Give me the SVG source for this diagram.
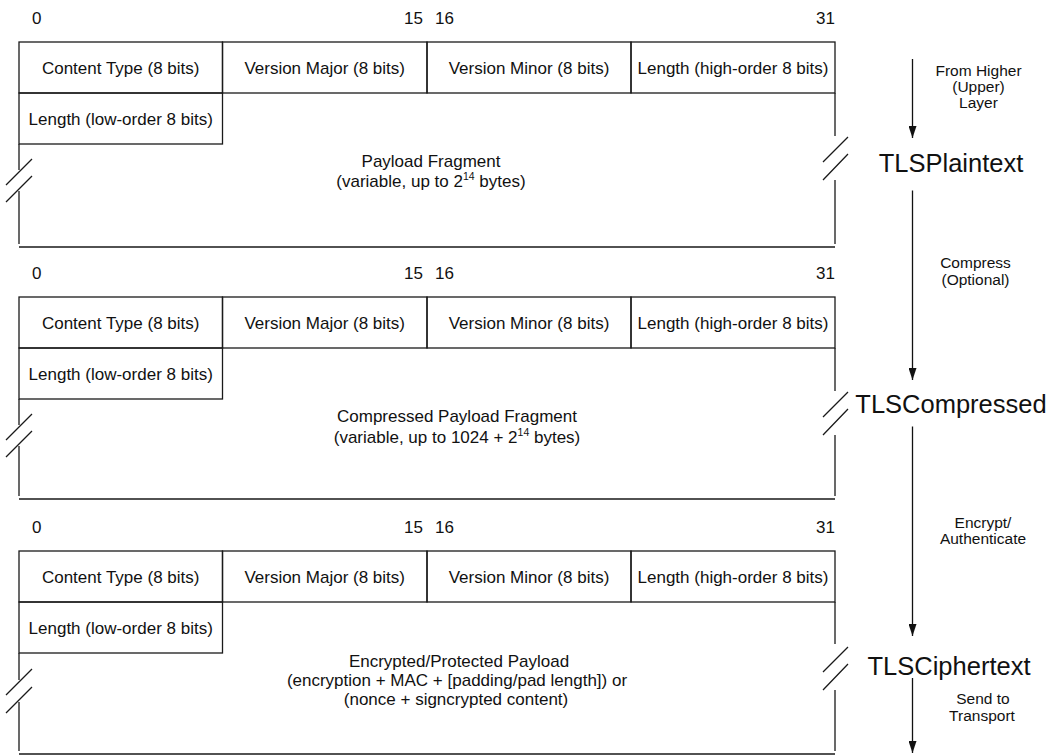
<svg xmlns="http://www.w3.org/2000/svg" width="1058" height="755" viewBox="0 0 1058 755">
<style>
text{font-family:"Liberation Sans",Arial,sans-serif;fill:#111}
.f{font-size:17px;text-anchor:middle}
.n{font-size:17px}
.s{font-size:15.5px;text-anchor:middle}
.big{font-size:25.5px;text-anchor:middle}
.sup{font-size:10.5px}
.ln{stroke:#1a1a1a;stroke-width:1.3;fill:none}
.con{stroke:#111;stroke-width:1.3;fill:none}
</style>
<defs>
<marker id="ah" markerUnits="userSpaceOnUse" markerWidth="12" markerHeight="8" refX="12" refY="4" orient="auto">
<path d="M0,0 L12,4 L0,8 z" fill="#111"/>
</marker>
</defs>
<rect width="1058" height="755" fill="#fff"/>

<!-- Frame 1 -->
<g id="tlsplaintext-record" transform="translate(0,42)">
<text class="n" x="32" y="-18">0</text>
<text class="n" x="423" y="-18" text-anchor="end">15</text>
<text class="n" x="435" y="-18">16</text>
<text class="n" x="835" y="-18" text-anchor="end">31</text>
<g id="f1-content-type"><rect class="ln" x="19" y="0" width="203.5" height="51"/><text class="f" x="120.7" y="31.5">Content Type (8 bits)</text></g>
<g id="f1-version-major"><rect class="ln" x="222.5" y="0" width="204.5" height="51"/><text class="f" x="324.7" y="31.5">Version Major (8 bits)</text></g>
<g id="f1-version-minor"><rect class="ln" x="427" y="0" width="204" height="51"/><text class="f" x="529" y="31.5">Version Minor (8 bits)</text></g>
<g id="f1-length-high"><rect class="ln" x="631" y="0" width="204" height="51"/><text class="f" x="733" y="31.5">Length (high-order 8 bits)</text></g>
<g id="f1-length-low"><rect class="ln" x="19" y="51" width="203.5" height="51"/><text class="f" x="120.7" y="82.5">Length (low-order 8 bits)</text></g>
<g id="f1-payload">
<path class="ln" d="M19,102 V128 M19,149 V202 M835,51 V94 M835,138 V202 M19,205 H835"/>
<path class="ln" d="M32,117 L6,143 M32,134 L6,160 M848,95 L823,120 M848,112 L823,138"/>
<text class="f" x="431" y="124.7">Payload Fragment</text>
<text class="f" x="431" y="144.7">(variable, up to 2<tspan class="sup" dy="-7">14</tspan><tspan dy="7"> bytes)</tspan></text>
</g>
</g>

<!-- Frame 2 -->
<g id="tlscompressed-record" transform="translate(0,297)">
<text class="n" x="32" y="-18">0</text>
<text class="n" x="423" y="-18" text-anchor="end">15</text>
<text class="n" x="435" y="-18">16</text>
<text class="n" x="835" y="-18" text-anchor="end">31</text>
<g id="f2-content-type"><rect class="ln" x="19" y="0" width="203.5" height="51"/><text class="f" x="120.7" y="31.5">Content Type (8 bits)</text></g>
<g id="f2-version-major"><rect class="ln" x="222.5" y="0" width="204.5" height="51"/><text class="f" x="324.7" y="31.5">Version Major (8 bits)</text></g>
<g id="f2-version-minor"><rect class="ln" x="427" y="0" width="204" height="51"/><text class="f" x="529" y="31.5">Version Minor (8 bits)</text></g>
<g id="f2-length-high"><rect class="ln" x="631" y="0" width="204" height="51"/><text class="f" x="733" y="31.5">Length (high-order 8 bits)</text></g>
<g id="f2-length-low"><rect class="ln" x="19" y="51" width="203.5" height="51"/><text class="f" x="120.7" y="82.5">Length (low-order 8 bits)</text></g>
<g id="f2-payload">
<path class="ln" d="M19,102 V128 M19,149 V199 M835,51 V94 M835,138 V199 M19,202 H835"/>
<path class="ln" d="M32,117 L6,143 M32,134 L6,160 M848,95 L823,120 M848,112 L823,138"/>
<text class="f" x="457" y="125.3">Compressed Payload Fragment</text>
<text class="f" x="457" y="146.3">(variable, up to 1024 + 2<tspan class="sup" dy="-7">14</tspan><tspan dy="7"> bytes)</tspan></text>
</g>
</g>

<!-- Frame 3 -->
<g id="tlsciphertext-record" transform="translate(0,551)">
<text class="n" x="32" y="-18">0</text>
<text class="n" x="423" y="-18" text-anchor="end">15</text>
<text class="n" x="435" y="-18">16</text>
<text class="n" x="835" y="-18" text-anchor="end">31</text>
<g id="f3-content-type"><rect class="ln" x="19" y="0" width="203.5" height="51"/><text class="f" x="120.7" y="31.5">Content Type (8 bits)</text></g>
<g id="f3-version-major"><rect class="ln" x="222.5" y="0" width="204.5" height="51"/><text class="f" x="324.7" y="31.5">Version Major (8 bits)</text></g>
<g id="f3-version-minor"><rect class="ln" x="427" y="0" width="204" height="51"/><text class="f" x="529" y="31.5">Version Minor (8 bits)</text></g>
<g id="f3-length-high"><rect class="ln" x="631" y="0" width="204" height="51"/><text class="f" x="733" y="31.5">Length (high-order 8 bits)</text></g>
<g id="f3-length-low"><rect class="ln" x="19" y="51" width="203.5" height="51"/><text class="f" x="120.7" y="82.5">Length (low-order 8 bits)</text></g>
<g id="f3-payload">
<path class="ln" d="M19,102 V129 M19,151 V200 M835,51 V93 M835,139 V200 M19,203 H835"/>
<path class="ln" d="M32,118 L6,144 M32,136 L6,162 M848,96 L823,121 M848,113 L823,139"/>
<text class="f" x="459" y="116">Encrypted/Protected Payload</text>
<text class="f" x="457" y="135">(encryption + MAC + [padding/pad length]) or</text>
<text class="f" x="456" y="154">(nonce + signcrypted content)</text>
</g>
</g>

<!-- Stage labels -->
<g id="label-tlsplaintext"><text class="big" x="951" y="172">TLSPlaintext</text></g>
<g id="label-tlscompressed"><text class="big" x="951" y="413">TLSCompressed</text></g>
<g id="label-tlsciphertext"><text class="big" x="949" y="675">TLSCiphertext</text></g>

<!-- Connectors -->
<g id="connectors">
<line class="con" x1="912.5" y1="59" x2="912.5" y2="138" marker-end="url(#ah)"/>
<line class="con" x1="912.5" y1="190.5" x2="912.5" y2="380" marker-end="url(#ah)"/>
<line class="con" x1="912.5" y1="426.5" x2="912.5" y2="636" marker-end="url(#ah)"/>
<line class="con" x1="912.5" y1="678" x2="912.5" y2="753" marker-end="url(#ah)"/>
<text class="s" x="978.5" y="76">From Higher</text>
<text class="s" x="978.5" y="92">(Upper)</text>
<text class="s" x="978.5" y="108">Layer</text>
<text class="s" x="975.5" y="267.5">Compress</text>
<text class="s" x="975.5" y="285">(Optional)</text>
<text class="s" x="983" y="527.5">Encrypt/</text>
<text class="s" x="983" y="544">Authenticate</text>
<text class="s" x="983" y="704">Send to</text>
<text class="s" x="982" y="720.5">Transport</text>
</g>
</svg>
